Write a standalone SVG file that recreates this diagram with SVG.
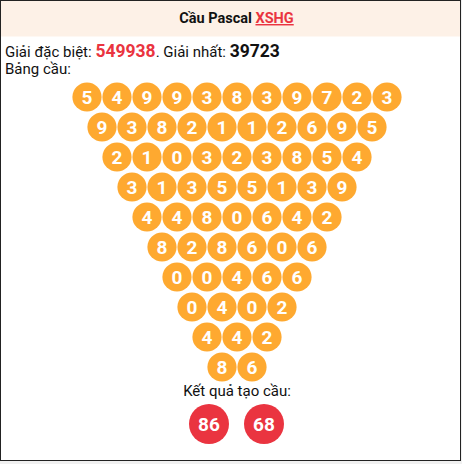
<svg xmlns="http://www.w3.org/2000/svg" width="462" height="464" viewBox="0 0 462 464">
<style>
text{font-family:Roboto,"Liberation Sans",sans-serif}
.b circle{fill:#FEA930}
.b text{fill:#fff;font-weight:bold;font-size:19px;text-anchor:middle}
.r circle{fill:#EA3440}
.r text{fill:#fff;font-weight:bold;font-size:19px;text-anchor:middle}
.t{font-size:15px;fill:#111}
</style>
<rect x="0" y="0" width="462" height="464" fill="#f0f0f0"/>
<rect x="0.5" y="0.5" width="460" height="460" fill="#fff" stroke="#222"/>
<rect x="1" y="1" width="459" height="35.5" fill="#FDF1E7"/>
<g id="title"><text x="236.5" y="23" text-anchor="middle" font-size="14.5" font-weight="bold" fill="#111">Cầu Pascal <tspan fill="#EA3440" text-decoration="underline">XSHG</tspan></text></g>
<g id="info"><text class="t" x="5" y="57">Giải đặc biệt: <tspan font-weight="bold" font-size="17.5" fill="#EA3440">549938</tspan>. Giải nhất: <tspan font-weight="bold" font-size="17.5" fill="#111">39723</tspan></text>
<text class="t" x="5" y="74">Bảng cầu:</text></g>
<g id="r1" class="b">
<circle cx="87" cy="97" r="14.6"/><text x="87" y="103.5">5</text>
<circle cx="117" cy="97" r="14.6"/><text x="117" y="103.5">4</text>
<circle cx="147" cy="97" r="14.6"/><text x="147" y="103.5">9</text>
<circle cx="177" cy="97" r="14.6"/><text x="177" y="103.5">9</text>
<circle cx="207" cy="97" r="14.6"/><text x="207" y="103.5">3</text>
<circle cx="237" cy="97" r="14.6"/><text x="237" y="103.5">8</text>
<circle cx="267" cy="97" r="14.6"/><text x="267" y="103.5">3</text>
<circle cx="297" cy="97" r="14.6"/><text x="297" y="103.5">9</text>
<circle cx="327" cy="97" r="14.6"/><text x="327" y="103.5">7</text>
<circle cx="357" cy="97" r="14.6"/><text x="357" y="103.5">2</text>
<circle cx="387" cy="97" r="14.6"/><text x="387" y="103.5">3</text>
</g>
<g id="r2" class="b">
<circle cx="102" cy="127" r="14.6"/><text x="102" y="133.5">9</text>
<circle cx="132" cy="127" r="14.6"/><text x="132" y="133.5">3</text>
<circle cx="162" cy="127" r="14.6"/><text x="162" y="133.5">8</text>
<circle cx="192" cy="127" r="14.6"/><text x="192" y="133.5">2</text>
<circle cx="222" cy="127" r="14.6"/><text x="222" y="133.5">1</text>
<circle cx="252" cy="127" r="14.6"/><text x="252" y="133.5">1</text>
<circle cx="282" cy="127" r="14.6"/><text x="282" y="133.5">2</text>
<circle cx="312" cy="127" r="14.6"/><text x="312" y="133.5">6</text>
<circle cx="342" cy="127" r="14.6"/><text x="342" y="133.5">9</text>
<circle cx="372" cy="127" r="14.6"/><text x="372" y="133.5">5</text>
</g>
<g id="r3" class="b">
<circle cx="117" cy="157" r="14.6"/><text x="117" y="163.5">2</text>
<circle cx="147" cy="157" r="14.6"/><text x="147" y="163.5">1</text>
<circle cx="177" cy="157" r="14.6"/><text x="177" y="163.5">0</text>
<circle cx="207" cy="157" r="14.6"/><text x="207" y="163.5">3</text>
<circle cx="237" cy="157" r="14.6"/><text x="237" y="163.5">2</text>
<circle cx="267" cy="157" r="14.6"/><text x="267" y="163.5">3</text>
<circle cx="297" cy="157" r="14.6"/><text x="297" y="163.5">8</text>
<circle cx="327" cy="157" r="14.6"/><text x="327" y="163.5">5</text>
<circle cx="357" cy="157" r="14.6"/><text x="357" y="163.5">4</text>
</g>
<g id="r4" class="b">
<circle cx="132" cy="187" r="14.6"/><text x="132" y="193.5">3</text>
<circle cx="162" cy="187" r="14.6"/><text x="162" y="193.5">1</text>
<circle cx="192" cy="187" r="14.6"/><text x="192" y="193.5">3</text>
<circle cx="222" cy="187" r="14.6"/><text x="222" y="193.5">5</text>
<circle cx="252" cy="187" r="14.6"/><text x="252" y="193.5">5</text>
<circle cx="282" cy="187" r="14.6"/><text x="282" y="193.5">1</text>
<circle cx="312" cy="187" r="14.6"/><text x="312" y="193.5">3</text>
<circle cx="342" cy="187" r="14.6"/><text x="342" y="193.5">9</text>
</g>
<g id="r5" class="b">
<circle cx="147" cy="217" r="14.6"/><text x="147" y="223.5">4</text>
<circle cx="177" cy="217" r="14.6"/><text x="177" y="223.5">4</text>
<circle cx="207" cy="217" r="14.6"/><text x="207" y="223.5">8</text>
<circle cx="237" cy="217" r="14.6"/><text x="237" y="223.5">0</text>
<circle cx="267" cy="217" r="14.6"/><text x="267" y="223.5">6</text>
<circle cx="297" cy="217" r="14.6"/><text x="297" y="223.5">4</text>
<circle cx="327" cy="217" r="14.6"/><text x="327" y="223.5">2</text>
</g>
<g id="r6" class="b">
<circle cx="162" cy="247" r="14.6"/><text x="162" y="253.5">8</text>
<circle cx="192" cy="247" r="14.6"/><text x="192" y="253.5">2</text>
<circle cx="222" cy="247" r="14.6"/><text x="222" y="253.5">8</text>
<circle cx="252" cy="247" r="14.6"/><text x="252" y="253.5">6</text>
<circle cx="282" cy="247" r="14.6"/><text x="282" y="253.5">0</text>
<circle cx="312" cy="247" r="14.6"/><text x="312" y="253.5">6</text>
</g>
<g id="r7" class="b">
<circle cx="177" cy="277" r="14.6"/><text x="177" y="283.5">0</text>
<circle cx="207" cy="277" r="14.6"/><text x="207" y="283.5">0</text>
<circle cx="237" cy="277" r="14.6"/><text x="237" y="283.5">4</text>
<circle cx="267" cy="277" r="14.6"/><text x="267" y="283.5">6</text>
<circle cx="297" cy="277" r="14.6"/><text x="297" y="283.5">6</text>
</g>
<g id="r8" class="b">
<circle cx="192" cy="307" r="14.6"/><text x="192" y="313.5">0</text>
<circle cx="222" cy="307" r="14.6"/><text x="222" y="313.5">4</text>
<circle cx="252" cy="307" r="14.6"/><text x="252" y="313.5">0</text>
<circle cx="282" cy="307" r="14.6"/><text x="282" y="313.5">2</text>
</g>
<g id="r9" class="b">
<circle cx="207" cy="337" r="14.6"/><text x="207" y="343.5">4</text>
<circle cx="237" cy="337" r="14.6"/><text x="237" y="343.5">4</text>
<circle cx="267" cy="337" r="14.6"/><text x="267" y="343.5">2</text>
</g>
<g id="r10" class="b">
<circle cx="222" cy="367" r="14.6"/><text x="222" y="373.5">8</text>
<circle cx="252" cy="367" r="14.6"/><text x="252" y="373.5">6</text>
</g>
<g id="result"><text class="t" x="237" y="396" text-anchor="middle">Kết quả tạo cầu:</text></g>
<g id="res1" class="r"><circle cx="209" cy="424" r="20"/><text x="209" y="431">86</text></g>
<g id="res2" class="r"><circle cx="264" cy="424" r="20"/><text x="264" y="431">68</text></g>
<g id="connectors"></g>
</svg>
